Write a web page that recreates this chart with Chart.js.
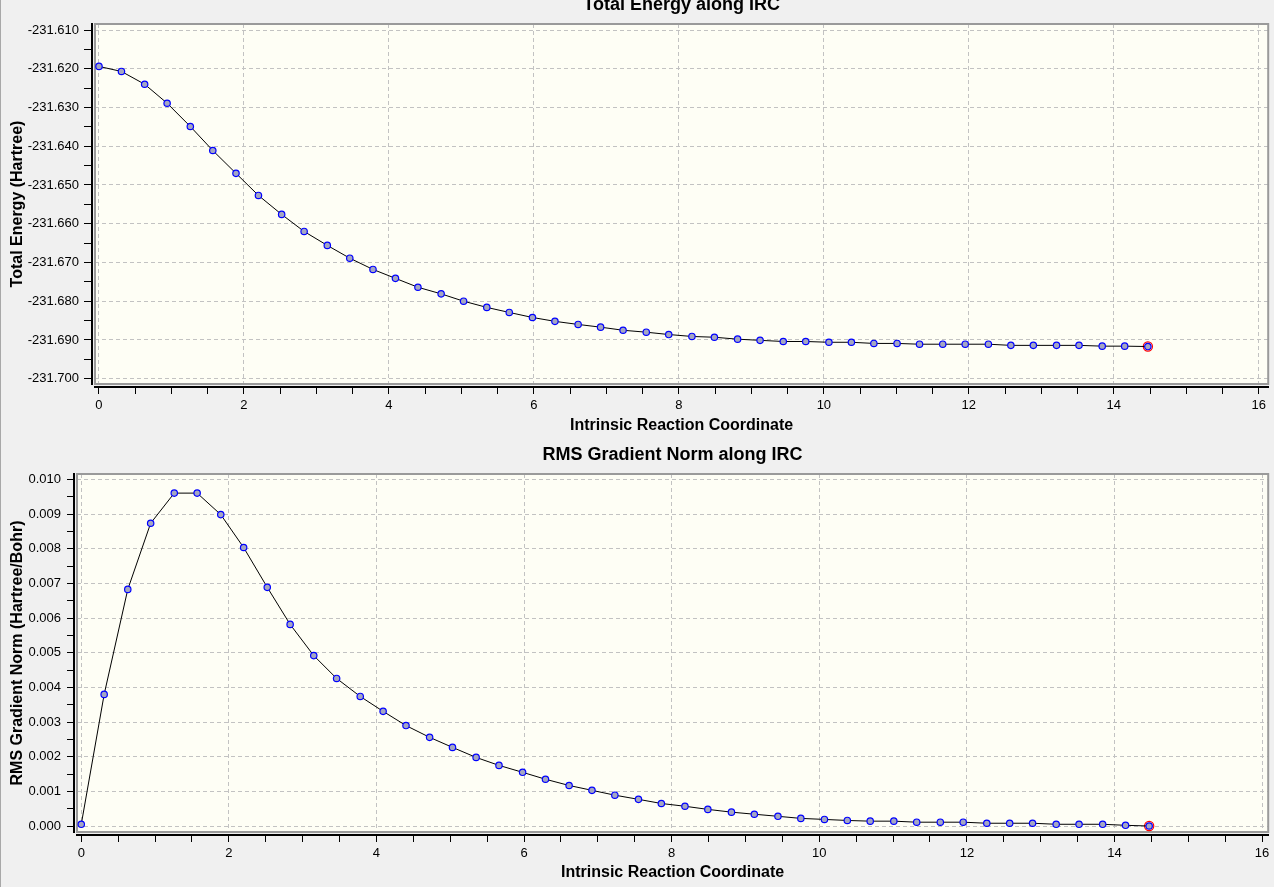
<!DOCTYPE html>
<html>
<head>
<meta charset="utf-8">
<script src="https://cdn.jsdelivr.net/npm/chart.js@4.4.1/dist/chart.umd.min.js"></script>
<style>
    html, body { margin: 0; padding: 0; background: #f0f0f0; }
    body { width: 1274px; height: 887px; overflow: hidden; position: relative; }
    .pane { position: absolute; left: 0; width: 1274px; }
    #topPane { top: 0; height: 440px; }
    #bottomPane { top: 440px; height: 447px; }
    .edge { position: absolute; left: 0; top: 0; width: 1px; height: 887px; background: #a8a8a8; }
</style>
</head>
<body>
<div class="pane" id="topPane"><canvas id="energyChart"></canvas></div>
<div class="pane" id="bottomPane"><canvas id="gradientChart"></canvas></div>
<div class="edge"></div>
<script>
// IRC step positions (bohr amu^1/2)
const irc = [0.00, 0.31, 0.63, 0.94, 1.26, 1.57, 1.89, 2.20, 2.52, 2.83,
    3.15, 3.46, 3.78, 4.09, 4.40, 4.72, 5.03, 5.35, 5.66, 5.98,
    6.29, 6.61, 6.92, 7.23, 7.55, 7.86, 8.18, 8.49, 8.81, 9.12,
    9.44, 9.75, 10.07, 10.38, 10.69, 11.01, 11.32, 11.64, 11.95, 12.27,
    12.58, 12.89, 13.21, 13.52, 13.84, 14.15, 14.47];

// Total energy (Hartree)
const energy = [-231.6194, -231.6207, -231.6240, -231.6289, -231.6349, -231.6411, -231.6470, -231.6527, -231.6576, -231.6620,
    -231.6656, -231.6689, -231.6718, -231.6741, -231.6764, -231.6781, -231.6800, -231.6816, -231.6829, -231.6842,
    -231.6852, -231.6860, -231.6867, -231.6875, -231.6880, -231.6886, -231.6891, -231.6893, -231.6898, -231.6901,
    -231.6904, -231.6904, -231.6906, -231.6906, -231.6909, -231.6909, -231.6911, -231.6911, -231.6911, -231.6911,
    -231.6914, -231.6914, -231.6914, -231.6914, -231.6916, -231.6916, -231.6917];

// RMS gradient norm (Hartree/Bohr)
const gradient = [0.00005, 0.00380, 0.00683, 0.00874, 0.00961, 0.00961, 0.00899, 0.00804, 0.00689, 0.00582,
    0.00492, 0.00426, 0.00374, 0.00331, 0.00290, 0.00256, 0.00227, 0.00198, 0.00175, 0.00155,
    0.00135, 0.00117, 0.00103, 0.00089, 0.00077, 0.00065, 0.00057, 0.00048, 0.00040, 0.00034,
    0.00028, 0.00022, 0.00019, 0.00016, 0.00014, 0.00014, 0.00011, 0.00011, 0.00011, 0.00008,
    0.00008, 0.00008, 0.00005, 0.00005, 0.00005, 0.00002, 0.00000];

// labelled tick values
const xTickLabels = [0, 2, 4, 6, 8, 10, 12, 14, 16];
const energyTickLabels = [-231.700, -231.690, -231.680, -231.670, -231.660, -231.650, -231.640, -231.630, -231.620, -231.610];
const gradientTickLabels = [0.000, 0.001, 0.002, 0.003, 0.004, 0.005, 0.006, 0.007, 0.008, 0.009, 0.010];

const FONT = "'Liberation Sans', Arial, sans-serif";
Chart.defaults.font.family = FONT;
Chart.defaults.color = "#000";

const framePlugin = {
    id: "plotFrame",
    beforeDraw(chart) {
        const { ctx, chartArea: a } = chart;
        ctx.save();
        ctx.fillStyle = "#fefef5";
        ctx.fillRect(a.left, a.top, a.width, a.height);
        ctx.restore();
    },
    beforeDatasetsDraw(chart) {
        const { ctx, chartArea: a } = chart;
        ctx.save();
        ctx.strokeStyle = "#9a9a9a";
        ctx.lineWidth = 2;
        ctx.strokeRect(a.left, a.top, a.width, a.height);
        ctx.restore();
    },
};

function labelFor(list, digits) {
    return (value) => (list.some((v) => Math.abs(v - value) < 1e-7) ? value.toFixed(digits) : "");
}

function buildChart(canvasId, cfg) {
    const last = irc.length - 1;
    return new Chart(document.getElementById(canvasId), {
        type: "line",
        data: {
            datasets: [
                {
                    data: irc.map((x, i) => ({ x: x, y: cfg.values[i] })),
                    xAxisID: "x",
                    yAxisID: "y",
                    borderColor: "#000",
                    borderWidth: 1,
                    tension: 0,
                    pointRadius: 3.2,
                    pointBorderWidth: 1.2,
                    pointBorderColor: "#0000ff",
                    pointBackgroundColor: "#a4a6c2",
                },
                {
                    data: [{ x: irc[last], y: cfg.values[last] }],
                    xAxisID: "x",
                    yAxisID: "y",
                    showLine: false,
                    pointRadius: 4.6,
                    pointBorderWidth: 1.2,
                    pointBorderColor: "#ff0000",
                    pointBackgroundColor: "rgba(0,0,0,0)",
                },
            ],
        },
        options: {
            responsive: true,
            maintainAspectRatio: false,
            animation: false,
            layout: { padding: { left: 0, top: 0, right: cfg.padRight, bottom: 0 } },
            plugins: {
                legend: { display: false },
                tooltip: { enabled: false },
                title: {
                    display: true,
                    fullSize: false,
                    text: cfg.title,
                    color: "#000",
                    font: { size: 18, weight: "bold", lineHeight: 1 },
                    padding: { top: cfg.titleTop, bottom: cfg.titleBottom },
                },
            },
            scales: {
                x: {
                    type: "linear", axis: "x", position: "bottom", weight: 0,
                    min: cfg.xMin, max: cfg.xMax,
                    ticks: { display: false, stepSize: 2, includeBounds: false, autoSkip: false },
                    grid: { color: "#c2c2c2", lineWidth: 1, drawTicks: false },
                    border: { display: false, dash: [4, 3] },
                    afterFit: (s) => { s.height = 3; },
                },
                x2: {
                    type: "linear", axis: "x", position: "bottom", weight: 1,
                    min: cfg.xMin, max: cfg.xMax,
                    ticks: {
                        stepSize: 0.5, includeBounds: false, autoSkip: false, maxRotation: 0,
                        padding: 4, font: { size: 13 }, color: "#000",
                        callback: labelFor(xTickLabels, 0),
                    },
                    grid: { drawOnChartArea: false, color: "#000", tickLength: 7, tickWidth: 1 },
                    border: { display: true, color: "#000", width: 2 },
                    title: {
                        display: true, text: "Intrinsic Reaction Coordinate", color: "#000",
                        font: { size: 16, weight: "bold", lineHeight: 1 },
                        padding: { top: 0, bottom: cfg.xTitleBottom },
                    },
                    afterFit: (s) => { s.height = cfg.xAxisHeight; },
                },
                y: {
                    type: "linear", axis: "y", position: "left", weight: 0,
                    min: cfg.yMin, max: cfg.yMax,
                    ticks: { display: false, stepSize: cfg.yMajor, includeBounds: false, autoSkip: false },
                    grid: { color: "#c2c2c2", lineWidth: 1, drawTicks: false },
                    border: { display: false, dash: [4, 3] },
                    afterFit: (s) => { s.width = 3; },
                },
                y2: {
                    type: "linear", axis: "y", position: "left", weight: 1,
                    min: cfg.yMin, max: cfg.yMax,
                    ticks: {
                        stepSize: cfg.yMinor, includeBounds: false, autoSkip: false,
                        padding: cfg.yTickPad, font: { size: 13 }, color: "#000",
                        callback: labelFor(cfg.yLabels, 3),
                    },
                    grid: { drawOnChartArea: false, color: "#000", tickLength: cfg.yTickLen, tickWidth: 1 },
                    border: { display: true, color: "#000", width: 2 },
                    title: {
                        display: true, text: cfg.yTitle, color: "#000",
                        font: { size: 16, weight: "bold", lineHeight: 1 },
                        padding: { top: 9.2, bottom: 0 },
                    },
                    afterFit: (s) => { s.width = cfg.yAxisWidth; },
                },
            },
        },
        plugins: [framePlugin],
    });
}

buildChart("energyChart", {
    values: energy,
    title: "Total Energy along IRC",
    yTitle: "Total Energy (Hartree)",
    yLabels: energyTickLabels,
    xMin: -0.055, xMax: 16.13,
    yMin: -231.70137, yMax: -231.60845,
    yMajor: 0.01, yMinor: 0.005,
    titleTop: -3.5, titleBottom: 9.5,
    xAxisHeight: 53, xTitleBottom: 6.8,
    yAxisWidth: 92, yTickLen: 8, yTickPad: 5,
    padRight: 3,
});

buildChart("gradientChart", {
    values: gradient,
    title: "RMS Gradient Norm along IRC",
    yTitle: "RMS Gradient Norm (Hartree/Bohr)",
    yLabels: gradientTickLabels,
    xMin: -0.058, xMax: 16.083,
    yMin: -0.000173, yMax: 0.010162,
    yMajor: 0.001, yMinor: 0.0005,
    titleTop: 6.5, titleBottom: 9.5,
    xAxisHeight: 52, xTitleBottom: 6.2,
    yAxisWidth: 74, yTickLen: 7, yTickPad: 6,
    padRight: 5,
});
</script>
</body>
</html>
